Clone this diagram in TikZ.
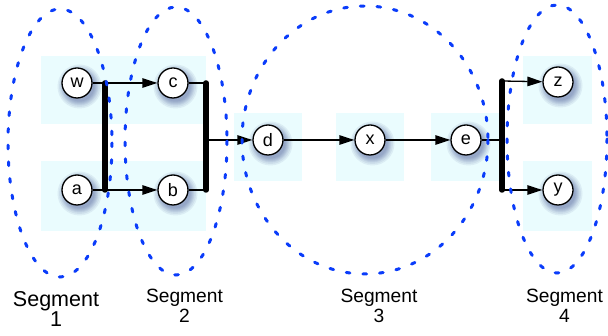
\documentclass[tikz,border=0pt]{standalone}
\usepackage{fontspec}
\setmainfont{Liberation Sans}
\usetikzlibrary{arrows.meta,backgrounds}
\definecolor{segblue}{RGB}{10,60,250}
\definecolor{bgcyan}{RGB}{234,252,254}
\definecolor{shadowcol}{RGB}{40,55,130}
\tikzset{
  vnode/.style={circle, draw=black, line width=1.3pt, fill=white, minimum size=30pt, inner sep=0pt,
    font=\fontsize{18}{18}\selectfont},
  shadowdisc/.style={fill=shadowcol, fill opacity=0.075, draw=none},
  seg/.style={draw=segblue, line width=3pt, line cap=round, dash pattern=on 3.7pt off 13pt},
  bar/.style={line width=5.5pt, line cap=round},
  conn/.style={line width=1.3pt},
  arr/.style={line width=1.3pt, -{Triangle[length=15pt,width=9.5pt]}},
  bgbox/.style={fill=bgcyan, draw=none},
  seglabel/.style={anchor=base, align=center},
}
\begin{document}
\begin{tikzpicture}[x=1pt,y=-1pt]
\useasboundingbox (0,0) rectangle (608,336);
% bar coordinates
\coordinate (b1t) at (105,83);
\coordinate (b1b) at (105,190);
\coordinate (b2t) at (206,83);
\coordinate (b2b) at (206,190);
\coordinate (b2m) at (206,140);
\coordinate (b3t) at (502,81);
\coordinate (b3b) at (502,190);
\coordinate (b3m) at (502,140);
% nodes
\node[vnode] (w) at (77,83) {w};
\node[vnode] (a) at (77,190) {a};
\node[vnode] (c) at (173,83) {c};
\node[vnode] (b) at (173,190) {b};
\node[vnode] (d) at (268,140) {d};
\node[vnode] (x) at (370,140) {x};
\node[vnode] (e) at (466,140) {e};
\node[vnode] (z) at (558,82) {z};
\node[vnode] (y) at (558,190) {y};
% backgrounds and shadows
\begin{scope}[on background layer]
\fill[bgbox] (41,56) rectangle (206,124);
\fill[bgbox] (41,161) rectangle (206,231);
\fill[bgbox] (234,113) rectangle (302,181);
\fill[bgbox] (336,113) rectangle (404,181);
\fill[bgbox] (431,113) rectangle (499,181);
\fill[bgbox] (523,56) rectangle (592,124);
\fill[bgbox] (523,161) rectangle (592,231);
\foreach \n in {w,a,c,b,d,x,e,z,y}{
  \foreach \r in {22,20.5,19,18,17,16,15}{
    \fill[shadowdisc] ([shift={(2.5,3.5)}]\n.center) circle [radius=\r];
  }
}
\end{scope}
% connectors
\draw[conn] (w) -- (b1t);
\draw[conn] (a) -- (b1b);
\draw[arr] (b1t) -- (c);
\draw[arr] (b1b) -- (b);
\draw[conn] (c) -- (b2t);
\draw[conn] (b) -- (b2b);
\draw[arr] (b2m) -- (d);
\draw[arr] (d) -- (x);
\draw[arr] (x) -- (e);
\draw[conn] (e) -- (b3m);
\draw[arr] (b3t) -- (z);
\draw[arr] (b3b) -- (y);
\draw[bar] (b1t) -- (b1b);
\draw[bar] (b2t) -- (b2b);
\draw[bar] (b3t) -- (b3b);
% segments
\draw[seg] (60,143) ellipse [x radius=52, y radius=134];
\draw[seg] (176,141) ellipse [x radius=51, y radius=134];
\draw[seg] (365,140) ellipse [x radius=123, y radius=134];
\draw[seg] (557,139) ellipse [x radius=50, y radius=134];
% labels
\node[seglabel, font=\fontsize{21.5}{20}\selectfont] (l1) at (56,326.7) {Segment\\1};
\node[seglabel, font=\fontsize{19.2}{20}\selectfont] (l2) at (184.5,323) {Segment\\2};
\node[seglabel, font=\fontsize{19.2}{20}\selectfont] (l3) at (379,323) {Segment\\3};
\node[seglabel, font=\fontsize{19.2}{20}\selectfont] (l4) at (564.5,323) {Segment\\4};
\end{tikzpicture}
\end{document}
